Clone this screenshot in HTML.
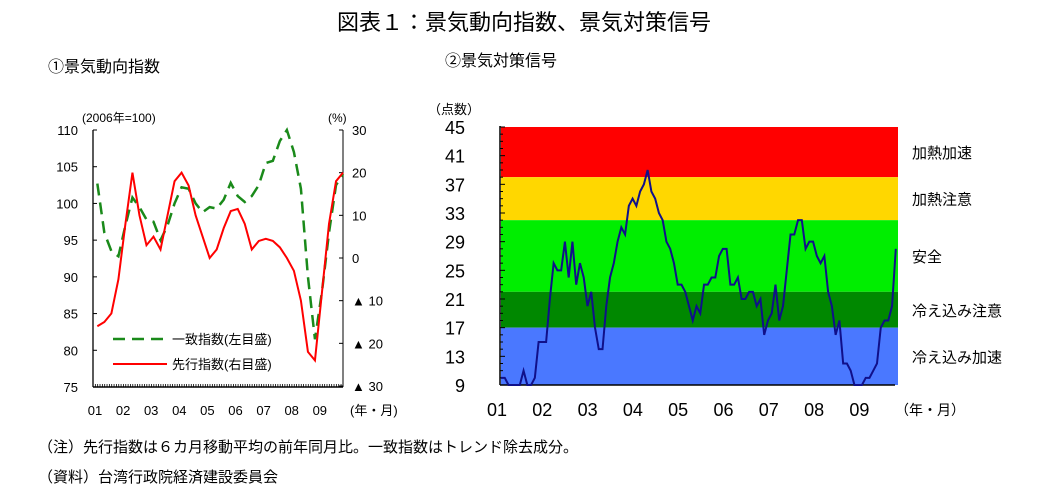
<!DOCTYPE html>
<html><head><meta charset="utf-8"><style>
body{margin:0;background:#fff;}
svg{display:block;font-family:"Liberation Sans","Noto Sans CJK JP",sans-serif;}
</style></head><body>
<svg width="1048" height="501" viewBox="0 0 1048 501">
<text x="524" y="30" font-size="22" text-anchor="middle">図表１：景気動向指数、景気対策信号</text>
<text x="48" y="72" font-size="16">①景気動向指数</text>
<text x="445" y="66" font-size="16">②景気対策信号</text>
<g id="left"></g>
<g id="right"></g>
<text x="38" y="452" font-size="15">（注）先行指数は６カ月移動平均の前年同月比。一致指数はトレンド除去成分。</text>
<text x="38" y="482" font-size="15">（資料）台湾行政院経済建設委員会</text>
</svg>
<script>
const NS="http://www.w3.org/2000/svg";
const yearLabels=["01","02","03","04","05","06","07","08","09"];
// Left chart data (quarterly, 2001Q1..2009Q4)
const coincident=[102.7,96,93.5,92.8, 97,100.8,99.5,97.8, 97.5,95,97,100, 102.2,102,100,98.8, 99.5,99.3,100.5,102.8, 101,100.2,101,102.5, 105.5,105.8,108.5,110, 107,102,90,81.5, 88,96,102.5,104];
const leading=[-16,-15,-13,-5, 8,20,10,3, 5,2,10,18, 20,17,10,5, 0,2,7,11, 11.5,8,2,4, 4.5,4,2.5,0, -3,-10,-22,-24, -8,8,18,20];
const leftTicks=[75,80,85,90,95,100,105,110];
const rightTicks=["30","20","10","0","▲ 10","▲ 20","▲ 30"];
// Right chart data (monthly, 2001-01..2009-10)
const signal=[10,10,9,9,9,9,11,9,9,10,15,15, 15,21,26,25,25,29,24,29,23,26,24,20, 22,17,14,14,20,24,26,29,31,30,34,35, 34,36,37,39,36,35,33,32,29,28,26,23, 23,22,20,18,20,19,23,23,24,24,27,28, 28,23,23,24,21,21,22,22,20,21,16,18, 19,23,18,20,25,30,30,32,32,28,29,29, 27,26,27,22,20,16,18,12,12,11,9,9, 9,10,10,11,12,17,18,18,20,28];
const bandEdges=[45,38,32,22,17,9];
const bandColors=["#ff0000","#ffd700","#00ee00","#008800","#4a78ff"];
const bandLabels=["加熱加速","加熱注意","安全","冷え込み注意","冷え込み加速"];
const signalTicks=[45,41,37,33,29,25,21,17,13,9];

function el(p,tag,a,txt){const e=document.createElementNS(NS,tag);for(const k in a)e.setAttribute(k,a[k]);if(txt!==undefined)e.textContent=txt;p.appendChild(e);return e;}

// LEFT
const L=document.getElementById('left');
const lx=i=>96+i*(224/24)*3/3*1; // placeholder replaced below
const lxq=q=>95+(q*3+1)*2.34;
const lyL=v=>130+(110-v)*(257/35);
const lyR=v=>258-v*(128/30);
let t=el(L,'text',{x:82,y:122,'font-size':12},"(2006年=100)");

t=el(L,'text',{x:328,y:122,'font-size':12},"(%)");

let a=el(L,'line',{x1:93,y1:130,x2:93,y2:387,stroke:'#000','stroke-width':1.3});

a=el(L,'line',{x1:343,y1:130,x2:343,y2:387,stroke:'#000','stroke-width':1});

a=el(L,'line',{x1:93,y1:387,x2:343,y2:387,stroke:'#000','stroke-width':1.5});

for(let m=0;m<=106;m++){el(L,'line',{x1:93+m*2.34,y1:384,x2:93+m*2.34,y2:387,stroke:'#000','stroke-width':0.8});}
leftTicks.forEach(v=>{const y=lyL(v);el(L,'line',{x1:93,y1:y,x2:97,y2:y,stroke:'#000'});
 const tt=el(L,'text',{x:78,y:y+5,'font-size':13,'text-anchor':'end'},String(v));
 });
rightTicks.forEach((s,i)=>{const y=lyR(30-i*10);el(L,'line',{x1:339,y1:y,x2:343,y2:y,stroke:'#000'});
 const tt=el(L,'text',{x:352,y:y+5,'font-size':13},s);
 });
yearLabels.forEach((s,i)=>{const tt=el(L,'text',{x:95+i*28.1,y:415,'font-size':13,'text-anchor':'middle'},s);
 });
t=el(L,'text',{x:350,y:415,'font-size':13},"(年・月)");

let p=el(L,'polyline',{points:coincident.map((v,i)=>lxq(i)+','+lyL(v)).join(' '),fill:'none',stroke:'#1a8a1a','stroke-width':2.5,'stroke-dasharray':'12,7'});

p=el(L,'polyline',{points:leading.map((v,i)=>lxq(i)+','+lyR(v)).join(' '),fill:'none',stroke:'#ff0000','stroke-width':2});

let lg=el(L,'g',{});
el(lg,'line',{x1:113,y1:339,x2:167,y2:339,stroke:'#1a8a1a','stroke-width':2.5,'stroke-dasharray':'12,7'});
el(lg,'text',{x:172,y:344,'font-size':13},"一致指数(左目盛)");
el(lg,'line',{x1:113,y1:364,x2:167,y2:364,stroke:'#ff0000','stroke-width':2});
el(lg,'text',{x:172,y:369,'font-size':13},"先行指数(右目盛)");

// RIGHT
const R=document.getElementById('right');
const rx=m=>501+m*3.76;
const ry=v=>127+(45-v)*(258/36);
t=el(R,'text',{x:428,y:114,'font-size':13},"（点数）");

bandColors.forEach((c,i)=>{const r=el(R,'rect',{x:501,y:ry(bandEdges[i]),width:397,height:ry(bandEdges[i+1])-ry(bandEdges[i]),fill:c});
 
 const tt=el(R,'text',{x:912,y:(ry(bandEdges[i])+ry(bandEdges[i+1]))/2+6,'font-size':15},bandLabels[i]);
 });
a=el(R,'line',{x1:500,y1:126,x2:500,y2:385,stroke:'#000','stroke-width':1.5});

a=el(R,'line',{x1:500,y1:385,x2:895,y2:385,stroke:'#000','stroke-width':1.5});

for(let v=9;v<=45;v++){const y=ry(v);el(R,'line',{x1:500,y1:y,x2:(v-9)%4==0?505:503,y2:y,stroke:'#000'});}
signalTicks.forEach(v=>{const tt=el(R,'text',{x:465,y:ry(v)+7,'font-size':18,'text-anchor':'end'},String(v));
 });
yearLabels.forEach((s,i)=>{const tt=el(R,'text',{x:497+i*45.3,y:416,'font-size':18,'text-anchor':'middle'},s);
 });
t=el(R,'text',{x:895,y:415,'font-size':14},"（年・月）");

p=el(R,'polyline',{points:signal.map((v,i)=>rx(i)+','+ry(v)).join(' '),fill:'none',stroke:'#10108a','stroke-width':2});

</script>
</body></html>
